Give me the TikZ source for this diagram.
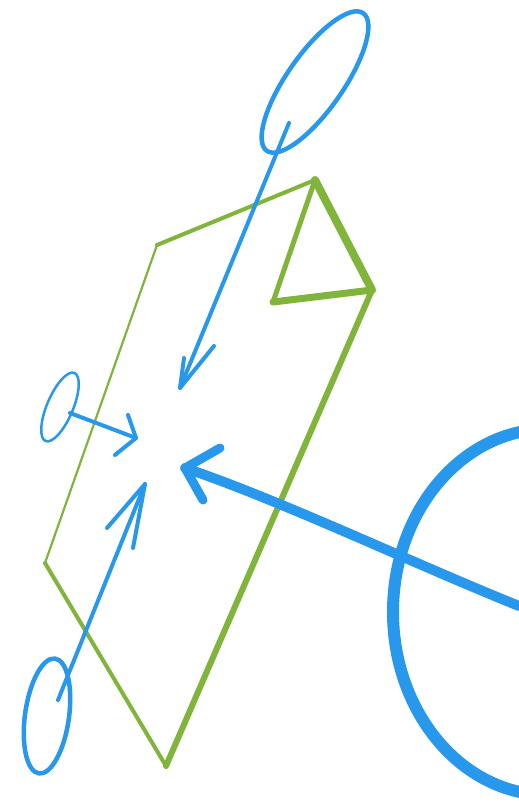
\documentclass[tikz,border=0pt]{standalone}
\begin{document}
\begin{tikzpicture}[x=1pt,y=-1pt, line cap=round, line join=round]
\definecolor{skblue}{RGB}{40,152,236}
\definecolor{skgreen}{RGB}{128,180,58}
\tikzset{
  sheet/.style={draw=skgreen},
  pen/.style={draw=skblue}
}
\useasboundingbox (0,0) rectangle (519,807);
% green sheet with folded corner
\coordinate (TL) at (157,245);
\coordinate (TR) at (315,180);
\coordinate (R) at (372,290);
\coordinate (B) at (166,766);
\coordinate (L) at (45,563);
\coordinate (F) at (273,302);
\path[sheet, line width=2.2pt] (TL) -- (L);
\path[sheet, line width=4pt] (L) -- (B);
\path[sheet, line width=6pt] (B) -- (R);
\path[sheet, line width=4pt] (TL) -- (TR);
\path[sheet, line width=8pt] (TR) -- (R);
\path[sheet, line width=5pt] (TR) -- (F);
\path[sheet, line width=7pt] (F) -- (R);
% top viewer
\coordinate (E1) at (315,82);
\path[pen, line width=4.5pt, rotate around={55:(E1)}] (E1) ellipse [x radius=84, y radius=28];
\coordinate (A1s) at (289,123);
\coordinate (A1t) at (180,388);
\coordinate (A1a) at (184,358);
\coordinate (A1b) at (214,346);
\path[pen, line width=4pt] (A1s) -- (A1t);
\path[pen, line width=4pt] (A1a) -- (A1t) -- (A1b);
% small left viewer
\coordinate (E2) at (60,407);
\path[pen, line width=2.5pt, rotate around={67:(E2)}] (E2) ellipse [x radius=37, y radius=13];
\coordinate (A2s) at (70,413);
\coordinate (A2t) at (136,438);
\coordinate (A2a) at (128,415);
\coordinate (A2b) at (115,455);
\path[pen, line width=4pt] (A2s) -- (A2t);
\path[pen, line width=4pt] (A2a) -- (A2t) -- (A2b);
% lower left viewer
\coordinate (E3) at (47,716);
\path[pen, line width=4.5pt, rotate around={82:(E3)}] (E3) ellipse [x radius=58, y radius=22];
\coordinate (A3s) at (58,700);
\coordinate (A3t) at (145,484);
\coordinate (A3a) at (107,528);
\coordinate (A3b) at (133,548);
\path[pen, line width=4pt] (A3s) -- (A3t);
\path[pen, line width=4pt] (A3a) -- (A3t) -- (A3b);
% big right viewer
\coordinate (E4) at (548,612);
\path[pen, line width=12pt] (E4) ellipse [x radius=155, y radius=183];
\coordinate (A4s) at (519,606);
\coordinate (A4t) at (185,468);
\coordinate (A4a) at (220,448);
\coordinate (A4b) at (203,500);
\path[pen, line width=10pt] (A4s) .. controls (410,562) and (280,500) .. (A4t);
\path[pen, line width=9pt] (A4a) -- (A4t) -- (A4b);
\end{tikzpicture}
\end{document}
